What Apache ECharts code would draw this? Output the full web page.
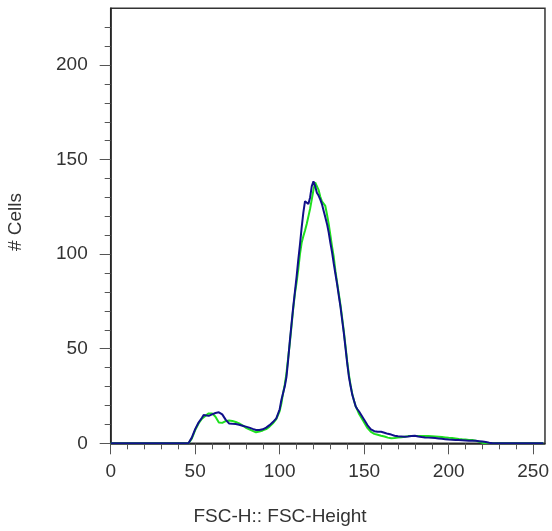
<!DOCTYPE html>
<html>
<head>
<meta charset="utf-8">
<script src="https://cdn.jsdelivr.net/npm/echarts@6/dist/echarts.min.js"></script>
<style>html,body{margin:0;padding:0;background:#fff}#c{width:552px;height:531px}</style>
</head>
<body>
<div id="c"></div>
<script>
var xs = [0,46,47,48,50,52,54,55,56,58,60,62,64,66,68,70,72,74,76,78,80,82,84,86,88,90,92,94,96,98,100,101,102,103,104,105,106,107,108,109,110,111,112,113,114,115,116,117,118,119,120,121,122,123,124,125,126,127,128,129,130,131,132,133,134,135,136,137,138,139,140,141,142,143,144,145,146,147,148,150,152,154,156,158,160,162,164,166,168,170,172,174,176,178,180,182,184,186,188,190,192,194,196,198,200,202,204,206,208,210,212,214,216,218,220,222,224,226,256];
var blueCounts = [0,0,0.5,3,7.5,11,13.5,15,14,14.5,15.3,16,16.4,15.3,12.5,10.5,10.3,10.2,9.8,9.3,8.8,8.3,7.6,7,7,7.4,8.3,9.6,11.2,13.2,18,22.9,26.5,30,35,44,54,63,72,80,88,97,105,114,122,128,128.5,126.5,130,136,138.5,136,132.5,131,129,126.5,123,119.5,116,111.5,106,101,95,89.5,84,78,72,65,58,50,42,35,30,25.5,22.5,19.5,18,16.8,15.8,12.5,9.5,7.4,6.4,6.1,6.1,5.6,5,4.6,4,3.7,3.6,3.5,3.6,3.8,4,3.6,3.3,3.1,3,2.9,2.8,2.6,2.4,2.2,2,1.9,1.8,1.7,1.6,1.5,1.4,1.4,1.3,1.1,0.9,0.7,0.3,0,0];
var greenCounts = [0,0,0.5,2.5,7,10.5,13,13.8,14.5,15.8,15.8,14,11,10.8,11.7,12,11.8,11.3,10.5,9.5,8.2,7.4,6.6,5.8,6.2,6.8,7.5,8.8,10.6,12.8,17,21,26.4,31,37,45,53,62,71,79,85,92,100,106,109.5,112.5,116,120,124,129,134,138,139,134,130.5,128,127,125.5,121,116,110,104,98.5,91,85,79,73,66,59,51,43,36,30.5,26,22.5,19.5,17.5,15.5,14,11,8,6,5,4.5,4,3.6,3,2.7,2.8,3,3.2,3.5,3.8,3.9,3.9,3.9,3.9,3.9,3.8,3.7,3.6,3.5,3.3,3.1,2.9,2.8,2.6,2.3,2.1,2,1.8,1.7,1.4,0.8,0.2,0,0,0,0];
var xTicks = [0,50,100,150,200,250];
var yTicks = [0,50,100,150,200];
var xTitle = 'FSC-H:: FSC-Height';
var yTitle = '# Cells';

function pairs(v){ return xs.map(function(x,i){ return [x, v[i]]; }); }
var font = '"Liberation Sans", Arial, sans-serif';
var chart = echarts.init(document.getElementById('c'), null, {renderer:'canvas'});
chart.setOption({
  animation:false,
  backgroundColor:'#fff',
  grid:{left:110.7, right:6.3, top:8.3, bottom:87.7, show:true, borderColor:'#333', borderWidth:1.5, backgroundColor:'transparent'},
  xAxis:{type:'value', min:0, max:257, interval:50,
    axisLine:{show:true, onZero:false, lineStyle:{color:'#222', width:1.5}},
    axisTick:{show:true, inside:false, length:11, customValues:xTicks, lineStyle:{color:'#555', width:1}},
    minorTick:{show:true, splitNumber:5, length:6, lineStyle:{color:'#555', width:1}},
    splitLine:{show:false},
    axisLabel:{margin:19, fontSize:19, color:'#333', fontFamily:font, customValues:xTicks}
  },
  yAxis:{type:'value', min:0, max:230, interval:50,
    axisLine:{show:true, onZero:false, lineStyle:{color:'#222', width:1.5}},
    axisTick:{show:true, inside:false, length:11, customValues:yTicks, lineStyle:{color:'#555', width:1}},
    minorTick:{show:true, splitNumber:5, length:6, lineStyle:{color:'#555', width:1}},
    splitLine:{show:false},
    axisLabel:{margin:23, fontSize:19, color:'#333', fontFamily:font, customValues:yTicks}
  },
  graphic:[
    {type:'text', x:280, y:517, style:{text:xTitle, font:'19px '+font, fill:'#333', align:'center', verticalAlign:'middle'}},
    {type:'text', x:16, y:222, rotation:Math.PI/2, style:{text:yTitle, font:'19px '+font, fill:'#333', align:'center', verticalAlign:'middle'}}
  ],
  series:[
    {type:'line', data:pairs(greenCounts), showSymbol:false, symbol:'none', lineStyle:{color:'#1ee01e', width:2}, z:2},
    {type:'line', data:pairs(blueCounts), showSymbol:false, symbol:'none', lineStyle:{color:'#10108a', width:2}, z:3}
  ]
});
</script>
</body>
</html>
